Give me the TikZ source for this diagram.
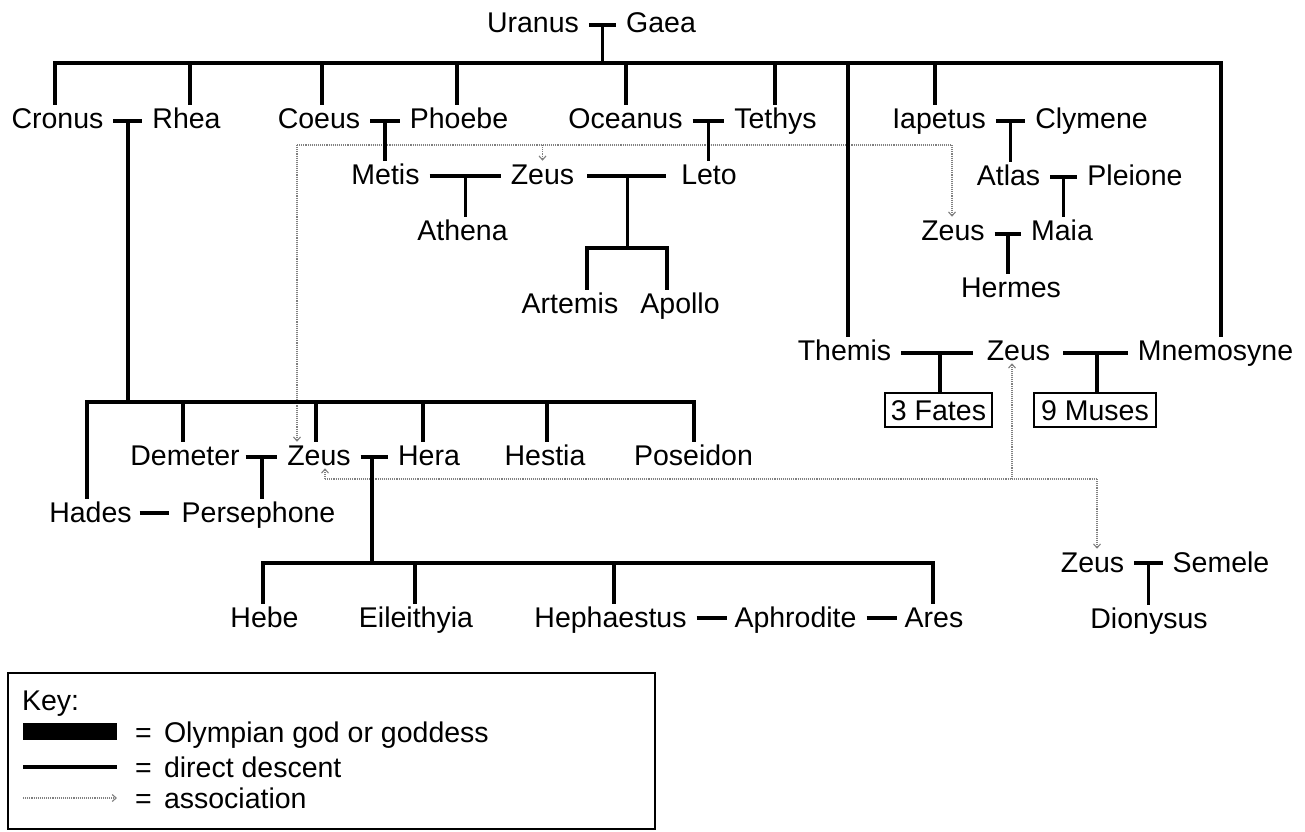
\documentclass[tikz,border=0pt]{standalone}
\usepackage{fontspec}
\setmainfont{Liberation Sans}
\usetikzlibrary{calc,arrows.meta}
\begin{document}
\begin{tikzpicture}[x=1pt,y=-1pt,
  font=\fontsize{28.5pt}{34pt}\selectfont,
  nm/.style={inner sep=0pt,outer xsep=10pt,outer ysep=3pt,text height=20.5pt,text depth=0pt},
  kt/.style={inner sep=0pt,outer sep=0pt,text height=20.5pt,text depth=0pt,anchor=west},
  desc/.style={line width=3.2pt},
  assoc/.style={black!50,line width=1.1pt,densely dotted},
  aarrow/.style={assoc,-{Straight Barb[length=4pt,width=7pt]}},
  fbox/.style={draw,line width=1.5pt,inner sep=0pt,outer sep=0pt,minimum height=34pt,text height=20.5pt,text depth=0pt}
]
\useasboundingbox (0,0) rectangle (1305,831);

% ---------- nodes ----------
\node[nm] (Uranus) at (533,22) {Uranus};
\node[nm] (Gaea) at (661,22) {Gaea};
\node[nm] (Cronus) at (57.5,118) {Cronus};
\node[nm] (Rhea) at (186.5,118) {Rhea};
\node[nm] (Coeus) at (319,118) {Coeus};
\node[nm] (Phoebe) at (459,118) {Phoebe};
\node[nm] (Oceanus) at (625.5,118) {Oceanus};
\node[nm] (Tethys) at (775.5,118) {Tethys};
\node[nm] (Iapetus) at (939,118) {Iapetus};
\node[nm] (Clymene) at (1091.5,118) {Clymene};
\node[nm] (Metis) at (385.5,174) {Metis};
\node[nm] (ZeusA) at (542.5,174) {Zeus};
\node[nm] (Leto) at (709,174) {Leto};
\node[nm] (Athena) at (462.5,230) {Athena};
\node[nm] (Artemis) at (570,303) {Artemis};
\node[nm] (Apollo) at (680,303) {Apollo};
\node[nm] (Atlas) at (1008.5,175) {Atlas};
\node[nm] (Pleione) at (1135,175) {Pleione};
\node[nm] (ZeusB) at (953,230) {Zeus};
\node[nm] (Maia) at (1062,230) {Maia};
\node[nm] (Hermes) at (1011,287) {Hermes};
\node[nm] (Themis) at (844.5,350) {Themis};
\node[nm] (ZeusC) at (1018.5,350) {Zeus};
\node[nm] (Mnemosyne) at (1215.5,350) {Mnemosyne};
\node[fbox,minimum width=107pt] (Fates) at (938.5,410) {3 Fates};
\node[fbox,minimum width=122pt] (Muses) at (1095,410) {9 Muses};
\node[nm] (Demeter) at (185,455) {Demeter};
\node[nm] (ZeusD) at (319,455) {Zeus};
\node[nm] (Hera) at (429,455) {Hera};
\node[nm] (Hestia) at (545,455) {Hestia};
\node[nm] (Poseidon) at (693.5,455) {Poseidon};
\node[nm] (Hades) at (90.5,512) {Hades};
\node[nm] (Persephone) at (258.5,512) {Persephone};
\node[nm] (Hebe) at (264.5,617) {Hebe};
\node[nm] (Eileithyia) at (416,617) {Eileithyia};
\node[nm] (Hephaestus) at (610.5,617) {Hephaestus};
\node[nm] (Aphrodite) at (795.5,617) {Aphrodite};
\node[nm] (Ares) at (934,617) {Ares};
\node[nm] (ZeusE) at (1092.5,562) {Zeus};
\node[nm] (Semele) at (1221,562) {Semele};
\node[nm] (Dionysus) at (1149,618) {Dionysus};

% ---------- association (drawn first) ----------
\draw[assoc] (297,145) -- (952,145);
\draw[aarrow] (297,145) -- (297,0 |- ZeusD.north);
\draw[aarrow] (952,145) -- (952,0 |- ZeusB.north);
\draw[aarrow] (ZeusA.center |- 0,145) -- (ZeusA.north);
\draw[assoc] (325,479) -- (1097,479);
\draw[aarrow] (325,479) -- (325,0 |- ZeusD.south);
\draw[aarrow] (1012,479) -- (1012,0 |- ZeusC.south);
\draw[aarrow] (1097,479) -- (1097,0 |- ZeusE.north);

% ---------- direct descent ----------
% Uranus - Gaea
\draw[desc] ($(Uranus.east)+(0,3)$) -- ($(Gaea.west)+(0,3)$);
\coordinate (UG) at ($(Uranus.east)!0.5!(Gaea.west)+(0,3)$);
\draw[desc] (UG) -- (UG |- 0,63);
\draw[desc] (55,0 |- Cronus.north) -- (55,63) -- (1221,63) -- (1221,0 |- Mnemosyne.north);
\foreach \n/\x in {Rhea/190, Coeus/322, Phoebe/457, Oceanus/626, Tethys/775, Iapetus/935}
  \draw[desc] (\x,63) -- (\x,0 |- \n.north);
\draw[desc] (848,63) -- (848,0 |- Themis.north);

% Cronus - Rhea
\draw[desc] ($(Cronus.east)+(0,3)$) -- ($(Rhea.west)+(0,3)$);
\coordinate (CR) at ($(Cronus.east)!0.5!(Rhea.west)+(0,3)$);
\coordinate (kids) at (CR |- 0,402);
\draw[desc] (CR) -- (kids);
\draw[desc] (87,0 |- Hades.north) -- (87,402) -- (694,402) -- (694,0 |- Poseidon.north);
\foreach \n/\x in {Demeter/183, ZeusD/316, Hera/423, Hestia/547}
  \draw[desc] (\x,402) -- (\x,0 |- \n.north);

% Coeus - Phoebe
\draw[desc] ($(Coeus.east)+(0,3)$) -- ($(Phoebe.west)+(0,3)$);
\coordinate (CP) at ($(Coeus.east)!0.5!(Phoebe.west)+(0,3)$);
\draw[desc] (CP) -- (CP |- Metis.north);

% Oceanus - Tethys
\draw[desc] ($(Oceanus.east)+(0,3)$) -- ($(Tethys.west)+(0,3)$);
\coordinate (OT) at ($(Oceanus.east)!0.5!(Tethys.west)+(0,3)$);
\draw[desc] (OT) -- (OT |- Leto.north);

% Iapetus - Clymene
\draw[desc] ($(Iapetus.east)+(0,3)$) -- ($(Clymene.west)+(0,3)$);
\coordinate (IC) at ($(Iapetus.east)!0.5!(Clymene.west)+(0,3)$);
\draw[desc] (IC) -- (IC |- Atlas.north);

% Metis - Zeus
\draw[desc] ($(Metis.east)+(0,2)$) -- ($(ZeusA.west)+(0,2)$);
\coordinate (MZ) at ($(Metis.east)!0.5!(ZeusA.west)+(0,2)$);
\draw[desc] (MZ) -- (MZ |- Athena.north);

% Zeus - Leto
\draw[desc] ($(ZeusA.east)+(3,2)$) -- ($(Leto.west)+(-5,2)$);
\coordinate (ZL) at ($(ZeusA.east)!0.5!(Leto.west)+(0,2)$);
\draw[desc] (ZL) -- (ZL |- 0,248);
\draw[desc] (587,0 |- Artemis.north) -- (587,248) -- (667,248) -- (667,0 |- Apollo.north);

% Atlas - Pleione
\draw[desc] ($(Atlas.east)+(0,2)$) -- ($(Pleione.west)+(0,2)$);
\coordinate (AP) at ($(Atlas.east)!0.5!(Pleione.west)+(0,2)$);
\draw[desc] (AP) -- (AP |- Maia.north);

% Zeus - Maia
\draw[desc] ($(ZeusB.east)+(0,4)$) -- ($(Maia.west)+(0,4)$);
\coordinate (ZM) at ($(ZeusB.east)!0.5!(Maia.west)+(0,4)$);
\draw[desc] (ZM) -- (ZM |- Hermes.north);

% Themis - Zeus - Mnemosyne
\draw[desc] ($(Themis.east)+(0,3)$) -- ($(ZeusC.west)+(-4,3)$);
\draw[desc] (940,353) -- (940,0 |- Fates.north);
\draw[desc] ($(ZeusC.east)+(3,3)$) -- ($(Mnemosyne.west)+(0,3)$);
\draw[desc] (1097,353) -- (1097,0 |- Muses.north);

% Demeter - Zeus
\draw[desc] ($(Demeter.east)+(-4,2)$) -- ($(ZeusD.west)+(0,2)$);
\draw[desc] (262,457) -- (262,0 |- Persephone.north);

% Hades - Persephone
\draw[desc] ($(Hades.east)+(-2,1)$) -- ($(Persephone.west)+(-3,1)$);

% Zeus - Hera
\draw[desc] ($(ZeusD.east)+(0,2)$) -- ($(Hera.west)+(0,2)$);
\draw[desc] (372,457) -- (372,563);
\draw[desc] (263,0 |- Hebe.north) -- (263,563) -- (933,563) -- (933,0 |- Ares.north);
\foreach \n/\x in {Eileithyia/415, Hephaestus/614}
  \draw[desc] (\x,563) -- (\x,0 |- \n.north);
\draw[desc] ($(Hephaestus.east)+(0,1)$) -- ($(Aphrodite.west)+(2,1)$);
\draw[desc] ($(Aphrodite.east)+(0,1)$) -- ($(Ares.west)+(2,1)$);

% Zeus - Semele
\draw[desc] ($(ZeusE.east)+(0,1)$) -- ($(Semele.west)+(0,1)$);
\coordinate (ZS) at ($(ZeusE.east)!0.5!(Semele.west)+(0,1)$);
\draw[desc] (ZS) -- (ZS |- Dionysus.north);

% ---------- key ----------
\node[draw,line width=1.4pt,minimum width=647pt,minimum height=156pt,inner sep=0pt,outer sep=0pt,anchor=north west] (keybox) at (8,673) {};
\node[kt] (keyt) at (22,700) {Key:};
\node[fill=black,minimum width=94pt,minimum height=17pt,inner sep=0pt,anchor=north west] (olbox) at (23,723) {};
\node[kt] (eq1) at (135,732) {=};
\node[kt] (olt) at (164,732) {Olympian god or goddess};
\coordinate (dl0) at (23,767);
\coordinate (dl1) at (117,767);
\draw[line width=3.5pt] (dl0) -- (dl1);
\node[kt] (eq2) at (135,767) {=};
\node[kt] (ddt) at (164,767) {direct descent};
\coordinate (as0) at (23,798);
\coordinate (as1) at (117,798);
\draw[aarrow] (as0) -- (as1);
\node[kt] (eq3) at (135,798) {=};
\node[kt] (ast) at (164,798) {association};
\end{tikzpicture}
\end{document}
